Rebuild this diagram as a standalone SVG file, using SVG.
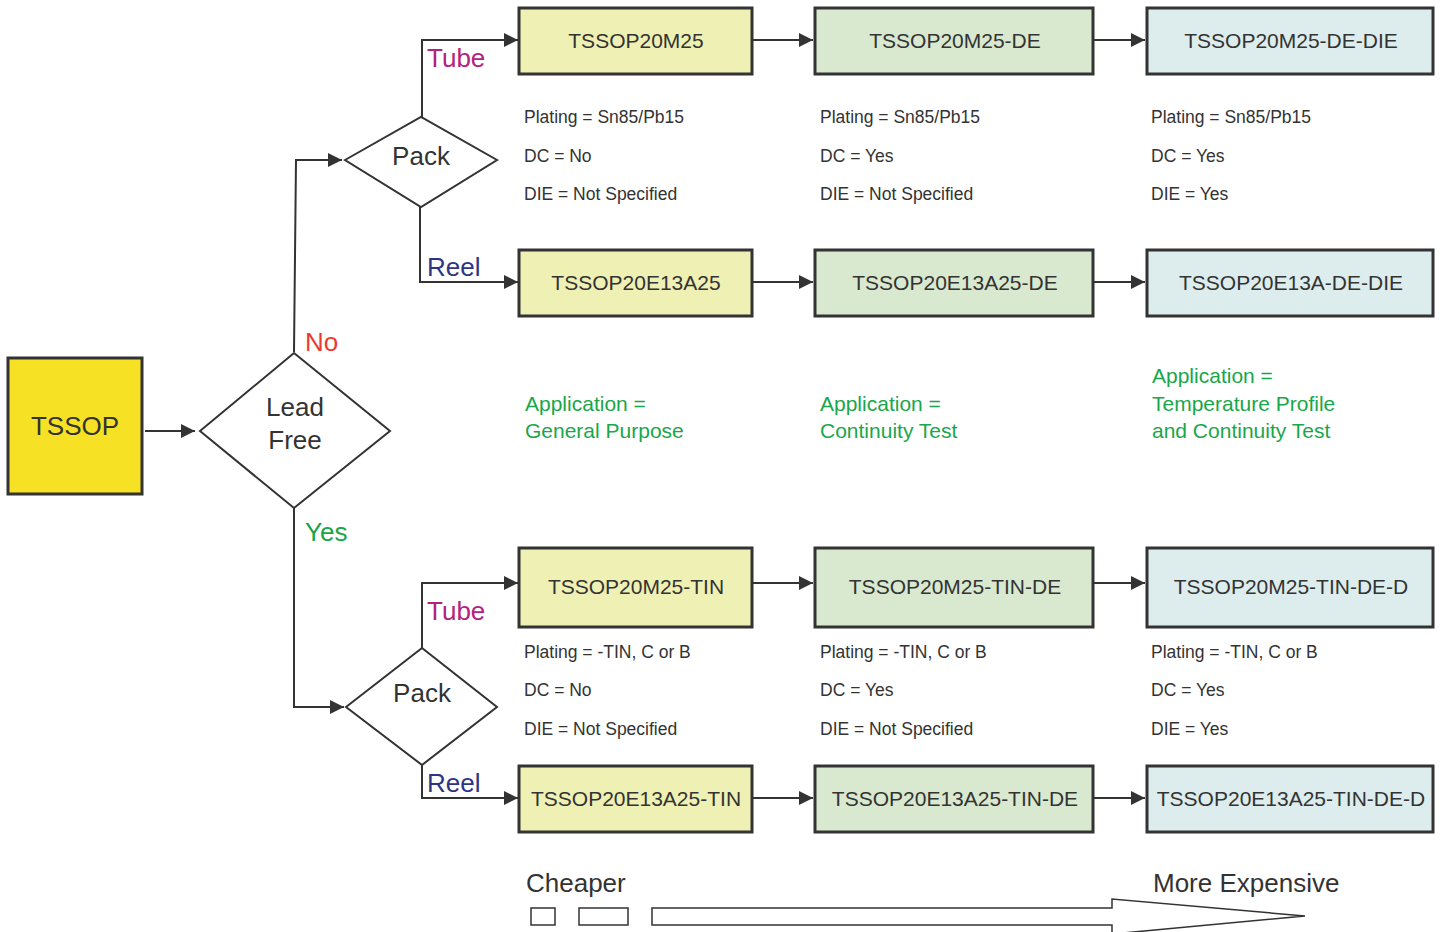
<svg xmlns="http://www.w3.org/2000/svg" width="1442" height="932" viewBox="0 0 1442 932">
<defs>
<marker id="ah" viewBox="0 0 14 14" refX="14" refY="7" markerWidth="14" markerHeight="14" markerUnits="userSpaceOnUse" orient="auto">
<path d="M0,0 L14,7 L0,14 Z" fill="#333"/>
</marker>
<style>
text{font-family:"Liberation Sans",Arial,sans-serif;fill:#333}
.box{stroke:#333;stroke-width:3}
.y{fill:#eff0b3}.g{fill:#d9e9cf}.b{fill:#ddeded}
.bt{font-size:21px;text-anchor:middle}
.dia{fill:#fff;stroke:#333;stroke-width:2}
.big{font-size:26px}
.mid{text-anchor:middle}
.p{font-size:17.5px}
.app{font-size:21px;fill:#1aa64a}
.con{fill:none;stroke:#333;stroke-width:2;marker-end:url(#ah)}
.tube{fill:#b3227c}.reel{fill:#2f3585}
.open{fill:#fff;stroke:#333;stroke-width:1.5}
</style>
</defs>
<rect width="1442" height="932" fill="#fff"/>

<g id="connectors">
<path class="con" d="M145,431 H195"/>
<path class="con" d="M294,352 L296,160 H342"/>
<path class="con" d="M422,117 V40 H518"/>
<path class="con" d="M420,207 V282 H518"/>
<path class="con" d="M294,508 V707 H344"/>
<path class="con" d="M422,648 V583 H518"/>
<path class="con" d="M422,765 V798 H518"/>
<path class="con" d="M753,40 H813"/>
<path class="con" d="M1094,40 H1145"/>
<path class="con" d="M753,282 H813"/>
<path class="con" d="M1094,282 H1145"/>
<path class="con" d="M753,583 H813"/>
<path class="con" d="M1094,583 H1145"/>
<path class="con" d="M753,798 H813"/>
<path class="con" d="M1094,798 H1145"/>
</g>

<g id="tssop">
<rect class="box" x="8" y="358" width="134" height="136" fill="#f7e125"/>
<text class="big mid" x="75" y="435">TSSOP</text>
</g>

<g id="leadfree">
<polygon class="dia" points="200,431 294,353 390,431 294,508"/>
<text class="big mid" x="295" y="416">Lead</text>
<text class="big mid" x="295" y="449">Free</text>
</g>
<text id="lbl-no" class="big" x="305" y="351" style="fill:#ee3a2f">No</text>
<text id="lbl-yes" class="big" x="305" y="541" style="fill:#16a548">Yes</text>

<g id="pack1">
<polygon class="dia" points="345,160 421,117 497,160 421,207"/>
<text class="big mid" x="421" y="165">Pack</text>
</g>
<text class="big tube" x="427" y="67">Tube</text>
<text class="big reel" x="427" y="276">Reel</text>

<g id="pack2">
<polygon class="dia" points="346,707 422,648 497,707 422,765"/>
<text class="big mid" x="422" y="702">Pack</text>
</g>
<text class="big tube" x="427" y="620">Tube</text>
<text class="big reel" x="427" y="792">Reel</text>

<g id="n-r1c1"><rect class="box y" x="519" y="8" width="233" height="66"/><text class="bt" x="636" y="47.5">TSSOP20M25</text></g>
<g id="n-r1c2"><rect class="box g" x="815" y="8" width="278" height="66"/><text class="bt" x="955" y="47.5">TSSOP20M25-DE</text></g>
<g id="n-r1c3"><rect class="box b" x="1147" y="8" width="286" height="66"/><text class="bt" x="1291" y="47.5">TSSOP20M25-DE-DIE</text></g>

<g id="n-r2c1"><rect class="box y" x="519" y="250" width="233" height="66"/><text class="bt" x="636" y="289.5">TSSOP20E13A25</text></g>
<g id="n-r2c2"><rect class="box g" x="815" y="250" width="278" height="66"/><text class="bt" x="955" y="289.5">TSSOP20E13A25-DE</text></g>
<g id="n-r2c3"><rect class="box b" x="1147" y="250" width="286" height="66"/><text class="bt" x="1291" y="289.5">TSSOP20E13A-DE-DIE</text></g>

<g id="n-r3c1"><rect class="box y" x="519" y="548" width="233" height="79"/><text class="bt" x="636" y="594">TSSOP20M25-TIN</text></g>
<g id="n-r3c2"><rect class="box g" x="815" y="548" width="278" height="79"/><text class="bt" x="955" y="594">TSSOP20M25-TIN-DE</text></g>
<g id="n-r3c3"><rect class="box b" x="1147" y="548" width="286" height="79"/><text class="bt" x="1291" y="594">TSSOP20M25-TIN-DE-D</text></g>

<g id="n-r4c1"><rect class="box y" x="519" y="766" width="233" height="66"/><text class="bt" x="636" y="805.5">TSSOP20E13A25-TIN</text></g>
<g id="n-r4c2"><rect class="box g" x="815" y="766" width="278" height="66"/><text class="bt" x="955" y="805.5">TSSOP20E13A25-TIN-DE</text></g>
<g id="n-r4c3"><rect class="box b" x="1147" y="766" width="286" height="66"/><text class="bt" x="1291" y="805.5">TSSOP20E13A25-TIN-DE-D</text></g>

<g id="props-top">
<text class="p" x="524" y="123">Plating = Sn85/Pb15</text>
<text class="p" x="524" y="162">DC = No</text>
<text class="p" x="524" y="200">DIE = Not Specified</text>
<text class="p" x="820" y="123">Plating = Sn85/Pb15</text>
<text class="p" x="820" y="162">DC = Yes</text>
<text class="p" x="820" y="200">DIE = Not Specified</text>
<text class="p" x="1151" y="123">Plating = Sn85/Pb15</text>
<text class="p" x="1151" y="162">DC = Yes</text>
<text class="p" x="1151" y="200">DIE = Yes</text>
</g>

<g id="props-bottom">
<text class="p" x="524" y="658">Plating = -TIN, C or B</text>
<text class="p" x="524" y="696">DC = No</text>
<text class="p" x="524" y="735">DIE = Not Specified</text>
<text class="p" x="820" y="658">Plating = -TIN, C or B</text>
<text class="p" x="820" y="696">DC = Yes</text>
<text class="p" x="820" y="735">DIE = Not Specified</text>
<text class="p" x="1151" y="658">Plating = -TIN, C or B</text>
<text class="p" x="1151" y="696">DC = Yes</text>
<text class="p" x="1151" y="735">DIE = Yes</text>
</g>

<g id="applications">
<text class="app" x="525" y="410.5">Application =</text>
<text class="app" x="525" y="438">General Purpose</text>
<text class="app" x="820" y="410.5">Application =</text>
<text class="app" x="820" y="438">Continuity Test</text>
<text class="app" x="1152" y="382.5">Application =</text>
<text class="app" x="1152" y="410.5">Temperature Profile</text>
<text class="app" x="1152" y="438">and Continuity Test</text>
</g>

<g id="cost-scale">
<text class="big" x="526" y="892">Cheaper</text>
<text class="big" x="1153" y="892">More Expensive</text>
<rect class="open" x="531" y="908" width="24" height="17"/>
<rect class="open" x="579" y="908" width="49" height="17"/>
<path class="open" d="M652,908 H1112 V899 L1305,916 L1112,934 V925 H652 Z"/>
</g>
</svg>
